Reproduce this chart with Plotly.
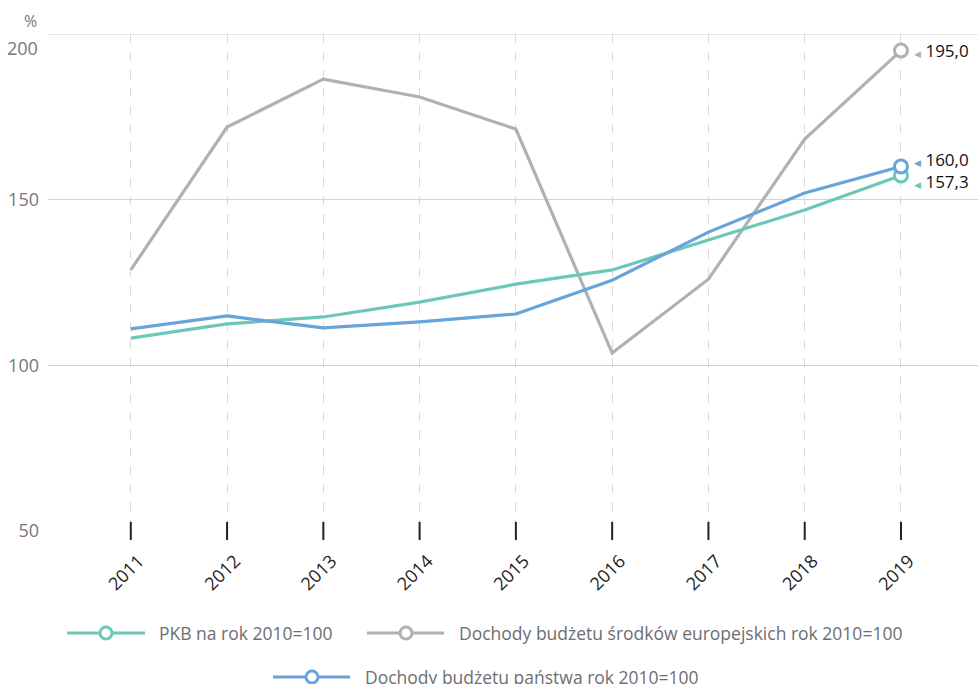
import plotly.graph_objects as go

years = ["2011", "2012", "2013", "2014", "2015", "2016", "2017", "2018", "2019"]
pkb = [108.2, 112.5, 114.6, 119.1, 124.5, 128.8, 137.8, 146.9, 157.3]
eu = [128.8, 171.9, 186.4, 181.0, 171.3, 103.7, 126.0, 168.3, 195.0]
panstwo = [111.0, 114.9, 111.3, 113.1, 115.5, 125.7, 140.2, 152.0, 160.0]
end_labels = ["157,3", "195,0", "160,0"]
names = ["PKB na rok 2010=100",
         "Dochody budżetu środków europejskich rok 2010=100",
         "Dochody budżetu państwa rok 2010=100"]

TEAL = "#6BC8B9"
GREY = "#AFB2B2"
BLUE = "#68A3DA"
FONT = "Open Sans"

fig = go.Figure()

series = [(eu, GREY, end_labels[1]), (pkb, TEAL, end_labels[0]), (panstwo, BLUE, end_labels[2])]
for vals, col, lab in series:
    fig.add_trace(go.Scatter(x=years, y=vals, mode="lines",
                             line=dict(color=col, width=3.2), showlegend=False,
                             hoverinfo="skip", cliponaxis=False))
for vals, col, lab in series:
    fig.add_trace(go.Scatter(x=[years[-1]], y=[vals[-1]], mode="markers",
                             marker=dict(size=13, color="white", line=dict(color=col, width=3)),
                             showlegend=False, cliponaxis=False))

# tick marks crossing the axis
fig.add_trace(go.Scatter(x=years, y=[50] * len(years), mode="markers",
                         marker=dict(symbol="line-ns-open", size=13, color="#222",
                                     line=dict(color="#222", width=2)),
                         showlegend=False, hoverinfo="skip", cliponaxis=False))

annotations = []
# end value labels
yshift = {"157,3": -6, "160,0": 7, "195,0": 0}
last_idx = len(years) - 1
for vals, col, lab in series:
    annotations.append(dict(
        x=last_idx, y=vals[-1], xref="x", yref="y", xanchor="left", yanchor="middle",
        xshift=11, yshift=yshift[lab], showarrow=False,
        text=f'<span style="color:{col};font-size:9px">◀</span> {lab}',
        font=dict(family=FONT, size=17, color="#111")))

annotations.append(dict(x=0, y=1, xref="paper", yref="paper", xanchor="right", yanchor="bottom",
                        xshift=-9, yshift=0, showarrow=False, text="%",
                        font=dict(family=FONT, size=16, color="#777")))
annotations.append(dict(x=0, y=200, xref="paper", yref="y", xanchor="right", yanchor="middle",
                        xshift=-8, yshift=-14, showarrow=False, text="200",
                        font=dict(family=FONT, size=18, color="#777")))

# custom legend
L, W = 48, 930
B, H = 531, 497
def px(x):
    return (x - L) / W
def py(y):
    return (B - y) / H

legend_items = [
    (names[0], TEAL, 67, 145, 106, 157, 633),
    (names[1], GREY, 367, 444, 406, 457, 633),
    (names[2], BLUE, 273, 350, 312, 363, 677),
]
shapes = [dict(type="line", xref="paper", yref="y", x0=0, x1=1, y0=200, y1=200,
               line=dict(color="#cfcfcf", width=1), layer="below")]
for name, col, x0, x1, xc, xt, yy in legend_items:
    shapes.append(dict(type="line", xref="paper", yref="paper", x0=px(x0), x1=px(x1),
                       y0=py(yy), y1=py(yy), line=dict(color=col, width=3.2)))
    shapes.append(dict(type="circle", xref="paper", yref="paper", xsizemode="pixel",
                       ysizemode="pixel", xanchor=px(xc), yanchor=py(yy),
                       x0=-6, x1=6, y0=-6, y1=6, fillcolor="white",
                       line=dict(color=col, width=3)))
    annotations.append(dict(x=px(xt), y=py(yy), xref="paper", yref="paper", xanchor="left",
                            yanchor="middle", showarrow=False, text=name,
                            font=dict(family=FONT, size=17.5, color="#6d6e71")))

fig.update_layout(
    width=978, height=684,
    margin=dict(l=48, r=0, t=34, b=153),
    plot_bgcolor="white", paper_bgcolor="white",
    font=dict(family=FONT),
    shapes=shapes, annotations=annotations,
    xaxis=dict(type="category", range=[-0.86, 8.8], showgrid=True, gridcolor="#dadada",
               griddash="dash", gridwidth=1, tickangle=-45, ticks="", showline=False,
               zeroline=False, ticklabelstandoff=15, ticklabelshift=8,
               tickfont=dict(family=FONT, size=18, color="#222")),
    yaxis=dict(range=[50, 200], tickvals=[50, 100, 150], ticktext=["50", "100", "150"],
               showgrid=True, gridcolor="#d3d3d3", gridwidth=1, zeroline=False,
               showline=False, ticks="", ticklabelstandoff=8,
               tickfont=dict(family=FONT, size=18, color="#777")),
)

fig.write_html("out.html")
